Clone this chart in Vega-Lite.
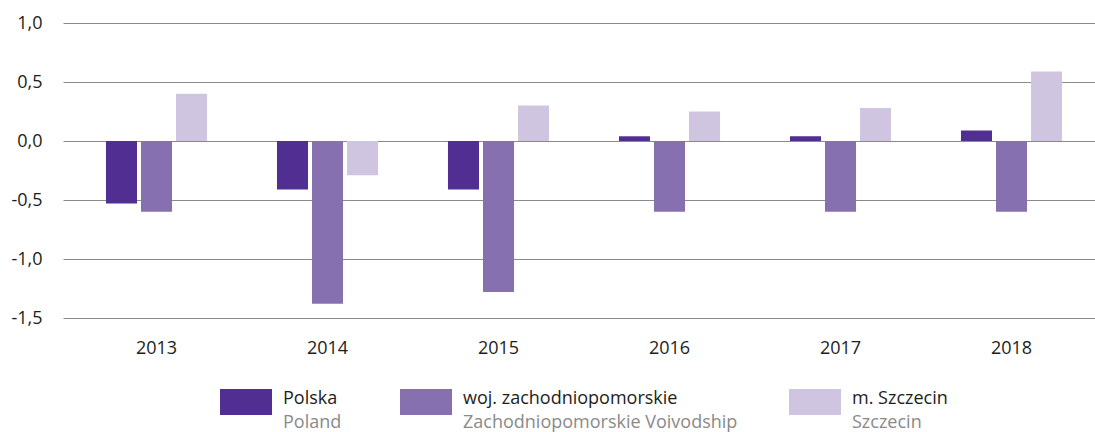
{
  "$schema": "https://vega.github.io/schema/vega-lite/v6.json",
  "width": 1032,
  "height": 295,
  "autosize": "none",
  "padding": {"left": 63, "top": 23, "right": 0, "bottom": 114},
  "background": "white",
  "config": {
    "font": "Open Sans",
    "view": {"stroke": null},
    "axis": {"labelFont": "Open Sans", "labelFontSize": 18, "labelColor": "#1d1d1b"}
  },
  "datasets": {
    "bars": [
      {"year": "2013", "series": "Polska", "value": -0.53},
      {"year": "2013", "series": "woj. zachodniopomorskie", "value": -0.60},
      {"year": "2013", "series": "m. Szczecin", "value": 0.40},
      {"year": "2014", "series": "Polska", "value": -0.41},
      {"year": "2014", "series": "woj. zachodniopomorskie", "value": -1.38},
      {"year": "2014", "series": "m. Szczecin", "value": -0.29},
      {"year": "2015", "series": "Polska", "value": -0.41},
      {"year": "2015", "series": "woj. zachodniopomorskie", "value": -1.28},
      {"year": "2015", "series": "m. Szczecin", "value": 0.30},
      {"year": "2016", "series": "Polska", "value": 0.04},
      {"year": "2016", "series": "woj. zachodniopomorskie", "value": -0.60},
      {"year": "2016", "series": "m. Szczecin", "value": 0.25},
      {"year": "2017", "series": "Polska", "value": 0.04},
      {"year": "2017", "series": "woj. zachodniopomorskie", "value": -0.60},
      {"year": "2017", "series": "m. Szczecin", "value": 0.28},
      {"year": "2018", "series": "Polska", "value": 0.09},
      {"year": "2018", "series": "woj. zachodniopomorskie", "value": -0.60},
      {"year": "2018", "series": "m. Szczecin", "value": 0.59}
    ],
    "legend": [
      {"idx": 0, "series": "Polska", "en": "Poland"},
      {"idx": 1, "series": "woj. zachodniopomorskie", "en": "Zachodniopomorskie Voivodship"},
      {"idx": 2, "series": "m. Szczecin", "en": "Szczecin"}
    ]
  },
  "layer": [
    {
      "data": {"name": "bars"},
      "mark": {"type": "bar"},
      "encoding": {
        "x": {
          "field": "year", "type": "ordinal",
          "scale": {"paddingInner": 0.409, "paddingOuter": 0.222, "align": 0.566},
          "axis": {"title": null, "labelAngle": 0, "labelPadding": 21, "domain": false, "ticks": false, "grid": false}
        },
        "xOffset": {
          "field": "series", "type": "nominal",
          "sort": ["Polska", "woj. zachodniopomorskie", "m. Szczecin"],
          "scale": {"paddingInner": 0.1143, "paddingOuter": 0}
        },
        "y": {
          "field": "value", "type": "quantitative",
          "scale": {"domain": [-1.5, 1.0], "nice": false, "zero": false},
          "axis": {
            "title": null,
            "values": [-1.5, -1, -0.5, 0, 0.5, 1],
            "labelExpr": "replace(replace(format(datum.value, '.1f'), '.', ','), '\u2212', '-')",
            "domain": false, "ticks": false,
            "gridColor": "#8a8a8a", "gridWidth": 1, "gridOpacity": 1,
            "labelPadding": 21
          }
        },
        "color": {
          "field": "series", "type": "nominal",
          "scale": {
            "domain": ["Polska", "woj. zachodniopomorskie", "m. Szczecin"],
            "range": ["#512e91", "#8770b0", "#cfc5e0"]
          },
          "legend": null
        }
      }
    },
    {
      "data": {"name": "legend"},
      "layer": [
        {
          "mark": {"type": "rect", "width": 52, "height": 26, "yOffset": -2},
          "encoding": {
            "x": {
              "field": "idx", "type": "quantitative",
              "scale": {"domain": [0, 1, 2], "range": [183, 363, 752], "zero": false, "nice": false},
              "axis": null
            },
            "y": {
              "datum": "pl", "type": "nominal",
              "scale": {"type": "point", "domain": ["pl", "en"], "range": [381, 405], "padding": 0},
              "axis": null
            },
            "color": {"field": "series", "type": "nominal", "legend": null}
          }
        },
        {
          "mark": {"type": "text", "align": "left", "baseline": "alphabetic", "dx": 37, "fontSize": 18, "color": "#1d1d1b"},
          "encoding": {
            "x": {"field": "idx", "type": "quantitative", "axis": null},
            "y": {"datum": "pl", "type": "nominal", "axis": null},
            "text": {"field": "series"}
          }
        },
        {
          "mark": {"type": "text", "align": "left", "baseline": "alphabetic", "dx": 37, "fontSize": 18, "color": "#8a8a8a"},
          "encoding": {
            "x": {"field": "idx", "type": "quantitative", "axis": null},
            "y": {"datum": "en", "type": "nominal", "axis": null},
            "text": {"field": "en"}
          }
        }
      ]
    }
  ],
  "resolve": {"scale": {"x": "independent", "y": "independent"}}
}
